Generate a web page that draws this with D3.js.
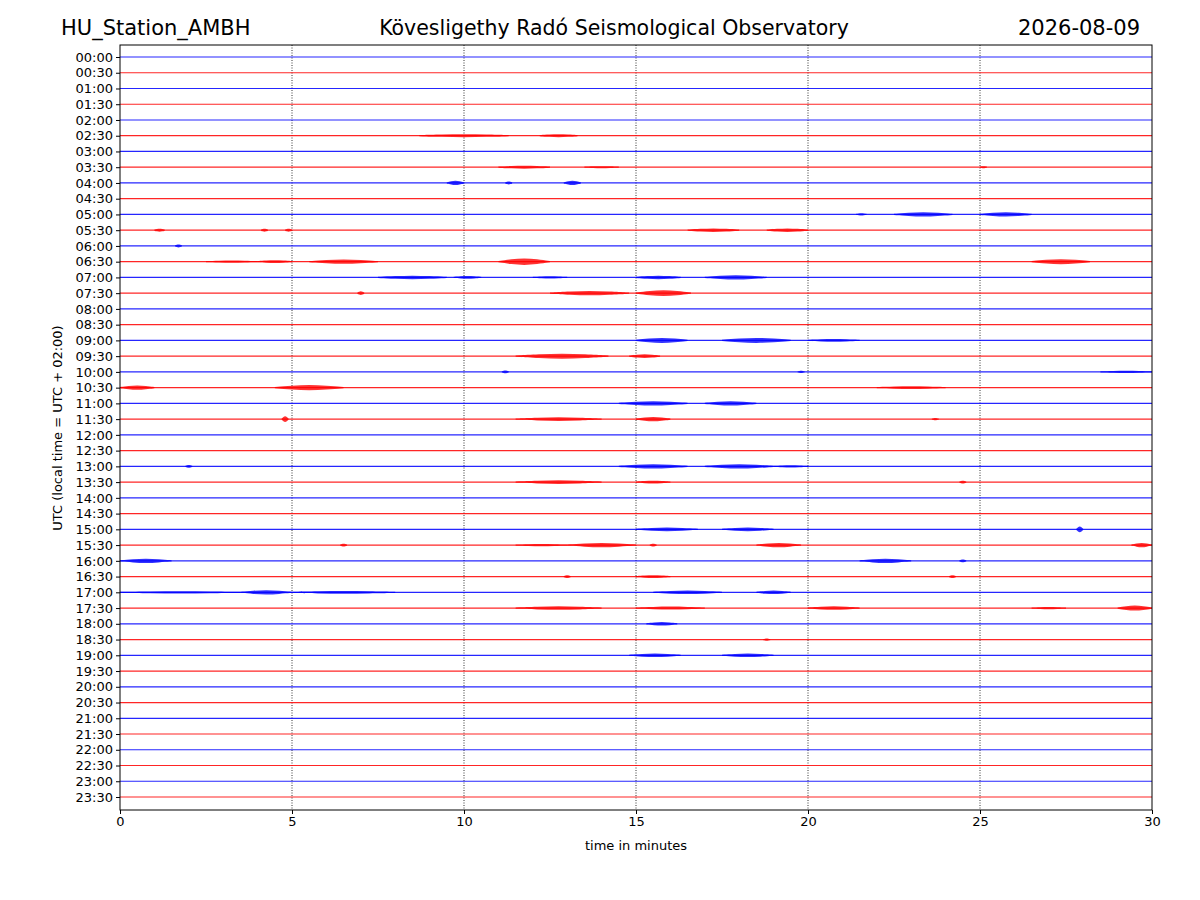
<!DOCTYPE html>
<html><head><meta charset="utf-8">
<script src="https://cdn.jsdelivr.net/npm/d3@7"></script>
<style>body{margin:0;background:#fff}text{font-family:"DejaVu Sans",sans-serif}</style>
</head><body><svg id="c" width="1200" height="900"></svg>
<script>
const traceLabels = d3.range(48).map(i => String(Math.floor(i/2)).padStart(2,"0") + (i%2 ? ":30" : ":00"));
const xTicks = [0,5,10,15,20,25,30];
// bursts: [traceIndex, startMin, endMin, amplitude (trace units)]
const bursts = [
[5,8.7,11.3,2],[5,12.2,13.3,2],
[7,11,12.5,2],[7,13.5,14.5,1.5],[7,25,25.2,1.5],
[8,9.5,10,3],[8,11.2,11.4,2],[8,12.9,13.4,3],
[10,21.4,21.7,1.5],[10,22.5,24.2,3],[10,25,26.5,3],
[11,1,1.3,2],[11,4.1,4.3,2],[11,4.8,5,2],[11,16.5,18,2.5],[11,18.8,20,2.5],
[12,1.6,1.8,2],
[13,2.5,4,1.5],[13,4,5,2],[13,5.5,7.5,3],[13,11,12.5,4.5],[13,26.5,28.2,3.5],
[14,7.5,9.5,2.5],[14,9.7,10.5,2],[14,12,13,1.5],[14,15,16.3,2.5],[14,17,18.8,3],
[15,6.9,7.1,2.5],[15,12.5,14.8,3],[15,15,16.6,4],
[18,15,16.5,3.5],[18,17.5,19.5,3.5],[18,20,21.5,2],
[19,11.5,14.2,3.5],[19,14.8,15.7,2.5],
[20,11.1,11.3,2],[20,19.7,19.9,1.5],[20,28.5,30,1.5],
[21,0,1,3],[21,4.5,6.5,3.5],[21,22,24,2],
[22,14.5,16.5,3],[22,17,18.5,3],
[23,4.7,4.9,4],[23,11.5,14,2.5],[23,15,16,3],[23,23.6,23.8,1.5],
[26,1.9,2.1,2],[26,14.5,16.5,3],[26,17,19,3],[26,19,20,1.5],
[27,11.5,14,2.5],[27,15,16,2],[27,24.4,24.6,2],
[30,15,16.8,2.5],[30,17.5,19,2.5],[30,27.8,28,4],
[31,6.4,6.6,2],[31,11.5,13,1.5],[31,13,15,3],[31,15.4,15.6,2],[31,18.5,19.8,3],[31,29.4,30,3],
[32,0,1.5,3],[32,21.5,23,3],[32,24.4,24.6,2],
[33,12.9,13.1,2],[33,15,16,2],[33,24.1,24.3,2],
[34,0,3.5,1.5],[34,3.5,5,3],[34,5,8,2],[34,15.5,17.5,2.5],[34,18.5,19.5,2.5],
[35,11.5,14,2.5],[35,15,17,2],[35,20,21.5,2.5],[35,26.5,27.5,1.5],[35,29,30,3.5],
[36,15.3,16.2,2.5],
[37,18.7,18.9,1.5],
[38,14.8,16.3,2.5],[38,17.5,19,2.5]
];
const svg = d3.select("#c");
const L=120,R=1152,T=45,B=810;
const x = d3.scaleLinear().domain([0,30]).range([L,R]);
const y = d3.scalePoint().domain(traceLabels).range([57,797]);
const color = i => i%2 ? "#ff0000" : "#0000ff";
svg.append("g").selectAll("line").data(xTicks.slice(1,-1)).join("line")
 .attr("x1",d=>x(d)).attr("x2",d=>x(d)).attr("y1",T).attr("y2",B)
 .attr("stroke","#000").attr("stroke-width",0.8).attr("stroke-dasharray","1,1.5");
svg.append("g").selectAll("line").data(traceLabels).join("line")
 .attr("x1",L).attr("x2",R).attr("y1",d=>y(d)).attr("y2",d=>y(d))
 .attr("stroke",(d,i)=>color(i)).attr("stroke-width",1.2).attr("opacity",0.85);
const area = d3.area().x(d=>x(d[0])).y0(d=>d[2]+d[1]).y1(d=>d[2]-d[1]).curve(d3.curveBasis);
svg.append("g").selectAll("path").data(bursts).join("path")
 .attr("d",b=>{const yc=y(traceLabels[b[0]]),m=(b[1]+b[2])/2,w=b[2]-b[1],a=b[3]*0.8;
   return area([[b[1],0.6,yc],[b[1]+w*0.25,a*0.7,yc],[m,a,yc],[b[2]-w*0.25,a*0.7,yc],[b[2],0.6,yc]]);})
 .attr("fill",b=>color(b[0])).attr("opacity",0.8);
svg.append("rect").attr("x",L).attr("y",T).attr("width",R-L).attr("height",B-T).attr("fill","none").attr("stroke","#000");
const xa = svg.append("g").attr("transform",`translate(0,${B})`).call(d3.axisBottom(x).tickValues(xTicks).tickSize(4).tickSizeOuter(0));
xa.selectAll("text").attr("font-size",13).attr("font-family","DejaVu Sans");
xa.select(".domain").remove();
const ya = svg.append("g").attr("transform",`translate(${L},0)`).call(d3.axisLeft(y).tickSize(4).tickSizeOuter(0));
ya.selectAll("text").attr("font-size",13).attr("font-family","DejaVu Sans").attr("fill","#000");
ya.select(".domain").remove();
svg.append("text").attr("x",(L+R)/2).attr("y",850).attr("text-anchor","middle").attr("font-size",13).text("time in minutes");
svg.append("text").attr("transform","translate(62,428) rotate(-90)").attr("text-anchor","middle").attr("font-size",13).text("UTC (local time = UTC + 02:00)");
svg.append("text").attr("x",61).attr("y",35).attr("font-size",21).text("HU_Station_AMBH");
svg.append("text").attr("x",614).attr("y",35).attr("text-anchor","middle").attr("font-size",20.5).text("Kövesligethy Radó Seismological Observatory");
svg.append("text").attr("x",1140).attr("y",35).attr("text-anchor","end").attr("font-size",21).text("2026-08-09");
</script></body></html>
